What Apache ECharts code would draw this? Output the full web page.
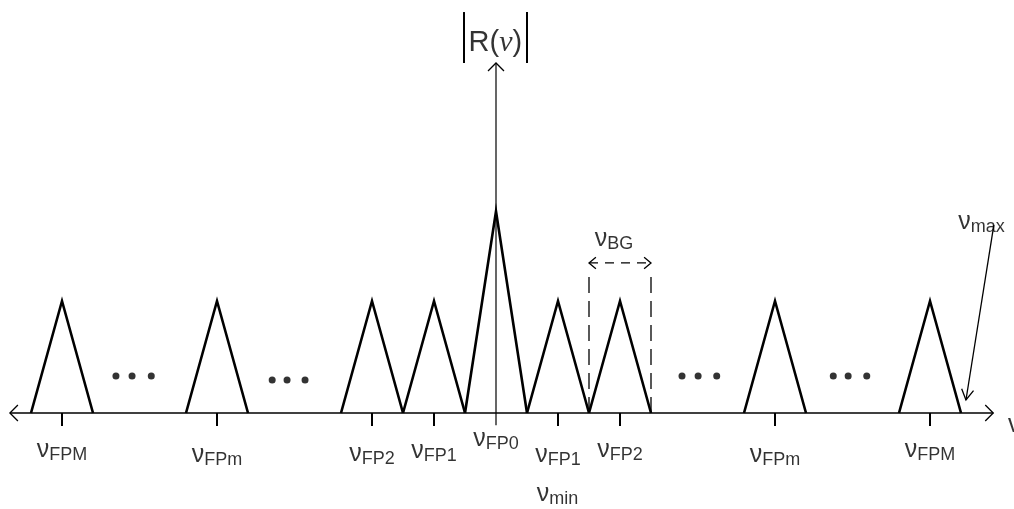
<!DOCTYPE html>
<html><head><meta charset="utf-8">
<script src="https://cdn.jsdelivr.net/npm/echarts@6/dist/echarts.min.js"></script>
<style>html,body{margin:0;padding:0;background:#fff}#c{width:1014px;height:509px}</style>
</head><body><div id="c"></div>
<script>
// ---- chart values ----
const peakPositions = [-7, -4.5, -2, -1, 0, 1, 2, 4.5, 7];
const peakHeights = [1, 1, 1, 1, 1.8, 1, 1, 1, 1];
const peakHalfWidth = 0.5;
const tickSubscripts = ['FPM', 'FPm', 'FP2', 'FP1', 'FP0', 'FP1', 'FP2', 'FPm', 'FPM'];
const ellipsisX = [-6.13, -5.87, -5.56, -3.61, -3.37, -3.08, 3.0, 3.26, 3.56, 5.44, 5.68, 5.98];
const ellipsisY = [0.33, 0.33, 0.33, 0.295, 0.295, 0.295, 0.33, 0.33, 0.33, 0.33, 0.33, 0.33];
const xAxisExtent = [-7.84, 8.02];
const yAxisExtent = [-0.11, 3.125];
const bgWindow = [1.5, 2.5];
const bgLevels = [1.25, 1.34];
const maxPointer = [[8.03, 1.68], [7.58, 0.116]];
const absBarsX = [-0.516, 0.5];
const absBarsY = [3.125, 3.58];

// ---- layout helpers ----
const ink = '#000';
const FONT = 'Liberation Sans, Arial, sans-serif';
const nuRich = {
  n: { fontFamily: FONT, fontSize: 25, color: ink, lineHeight: 30 },
  s: { fontFamily: FONT, fontSize: 18, color: ink, padding: [10, 0, 0, 0] }
};
const labelShift = -0.02;
const tickLabelY = [-0.3125, -0.357, -0.348, -0.321, -0.21, -0.353, -0.3125, -0.357, -0.3125];

function chevron(tip, from, len, deg) {
  const dx = from[0] - tip[0], dy = from[1] - tip[1];
  const d = Math.hypot(dx, dy), ux = dx / d, uy = dy / d;
  const a = deg * Math.PI / 180;
  const rot = (ang) => [tip[0] + len * (ux * Math.cos(ang) - uy * Math.sin(ang)),
                        tip[1] + len * (ux * Math.sin(ang) + uy * Math.cos(ang))];
  return { type: 'polyline', shape: { points: [rot(a), tip, rot(-a)] },
           style: { stroke: ink, fill: null, lineWidth: 1.3 } };
}
function seg(a, b, w, dash) {
  return { type: 'line', shape: { x1: a[0], y1: a[1], x2: b[0], y2: b[1] },
           style: { stroke: ink, lineWidth: w, lineDash: dash || null } };
}

function renderAnnotations(params, api) {
  const c = p => api.coord(p);
  const ch = [];
  const xl = c([xAxisExtent[0], 0]), xr = c([xAxisExtent[1], 0]);
  ch.push(seg(xl, xr, 1.3));
  ch.push(chevron(xl, xr, 11.3, 45));
  ch.push(chevron(xr, xl, 11.3, 45));
  const yb = c([0, yAxisExtent[0]]), yt = c([0, yAxisExtent[1]]);
  ch.push(seg(yb, yt, 1.2));
  ch.push(chevron(yt, yb, 11.3, 45));
  peakPositions.forEach((x) => {
    if (x === 0) return;
    const p = c([x, 0]);
    ch.push(seg(p, [p[0], p[1] + 13], 2));
  });
  const l0 = c([bgWindow[0], 0]), l1 = c([bgWindow[0], bgLevels[0]]);
  const r0 = c([bgWindow[1], 0]), r1 = c([bgWindow[1], bgLevels[0]]);
  ch.push(seg(l0, l1, 1.3, [16, 8]));
  ch.push(seg(r0, r1, 1.3, [16, 8]));
  const hl = c([bgWindow[0], bgLevels[1]]), hr = c([bgWindow[1], bgLevels[1]]);
  ch.push(seg(hl, hr, 1.3, [9, 7]));
  ch.push(chevron(hl, hr, 9, 40));
  ch.push(chevron(hr, hl, 9, 40));
  const m0 = c(maxPointer[0]), m1 = c(maxPointer[1]);
  ch.push(seg(m0, m1, 1.3));
  ch.push(chevron(m1, m0, 12, 30));
  absBarsX.forEach(x => ch.push(seg(c([x, absBarsY[0]]), c([x, absBarsY[1]]), 2)));
  return { type: 'group', children: ch };
}

const triangleSeries = peakPositions.map((x, i) => ({
  type: 'line', symbol: 'none', silent: true, z: 5, clip: false,
  lineStyle: { color: ink, width: 2.6, join: 'miter', miterLimit: 20 },
  data: [[x - peakHalfWidth, 0], [x, peakHeights[i]], [x + peakHalfWidth, 0]]
}));

const textPoint = (value, formatter, rich, align) => ({
  value,
  label: { show: true, position: [0, 0], align: align || 'center', verticalAlign: 'middle',
           formatter, rich }
});

const labelData = peakPositions.map((x, i) =>
  textPoint([x, tickLabelY[i] + labelShift], '{n|ν}{s|' + tickSubscripts[i] + '}', nuRich));
labelData.push(textPoint([1.903, 1.576 + labelShift], '{n|ν}{s|BG}', nuRich));
labelData.push(textPoint([7.83, 1.728 + labelShift], '{n|ν}{s|max}', nuRich));
labelData.push(textPoint([0.992, -0.705 + labelShift], '{n|ν}{s|min}', nuRich));
labelData.push(textPoint([8.26, -0.11], '{n|ν}', nuRich, 'left'));
labelData.push(textPoint([-0.01, 3.30], '{r|R(}{v|ν}{r|)}', {
  r: { fontFamily: FONT, fontSize: 29, color: ink },
  v: { fontFamily: 'Liberation Serif, serif', fontStyle: 'italic', fontSize: 30, color: ink }
}));

const option = {
  animation: false,
  backgroundColor: '#fff',
  grid: { left: 0, right: 0, top: 0, bottom: 0 },
  xAxis: { type: 'value', min: -8, max: 1014 / 62 - 8, show: false },
  yAxis: { type: 'value', min: -(509 - 413) / 112, max: 413 / 112, show: false },
  series: [
    { type: 'custom', silent: true, clip: false, z: 3, renderItem: renderAnnotations,
      encode: { x: 0, y: 1 }, data: [[0, 0]] },
    ...triangleSeries,
    { type: 'scatter', silent: true, z: 6, symbol: 'circle', symbolSize: 7,
      itemStyle: { color: ink }, data: ellipsisX.map((x, i) => [x, ellipsisY[i]]) },
    { type: 'scatter', silent: true, z: 7, symbolSize: 0.1,
      itemStyle: { color: 'transparent' }, data: labelData }
  ]
};
const chart = echarts.init(document.getElementById('c'), null, { renderer: 'canvas' });
chart.setOption(option);
</script></body></html>
